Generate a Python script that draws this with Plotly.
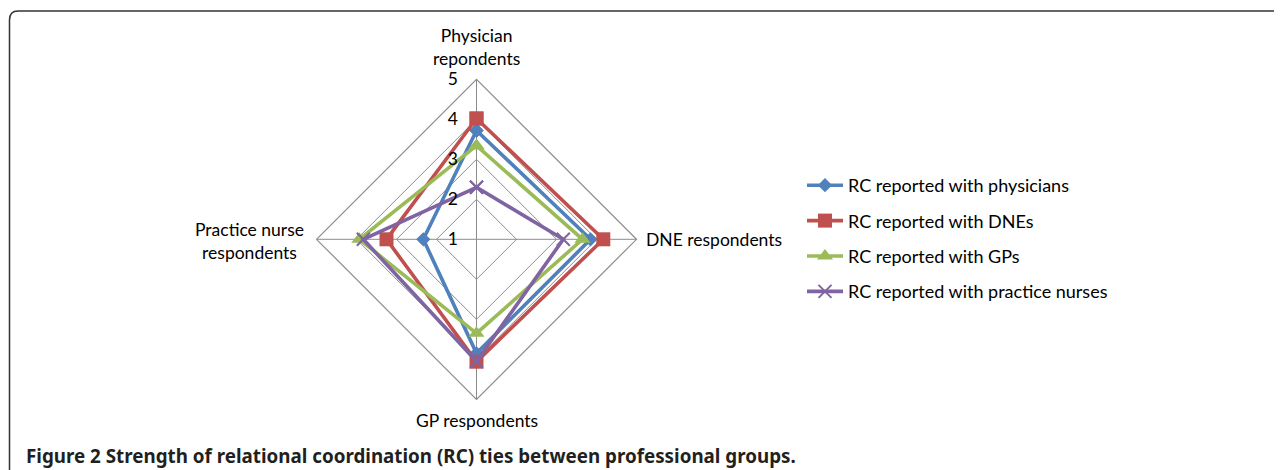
import plotly.graph_objects as go

categories = ["Physician<br>repondents", "DNE respondents", "GP respondents", "Practice nurse<br>respondents"]
series_names = ["RC reported with physicians", "RC reported with DNEs",
                "RC reported with GPs", "RC reported with practice nurses"]
rc_physicians = [3.72, 3.85, 3.85, 2.33]
rc_dnes = [4.02, 4.17, 4.06, 3.25]
rc_gps = [3.34, 3.65, 3.35, 3.93]
rc_practice_nurses = [2.30, 3.17, 4.05, 3.83]
radial_ticks = [1, 2, 3, 4, 5]
caption = "<b>Figure 2</b> <b>Strength of relational coordination (RC) ties between professional groups.</b>"

series_values = [rc_physicians, rc_dnes, rc_gps, rc_practice_nurses]
colors = ["#4F81BD", "#C0504D", "#9BBB59", "#8064A2"]
symbols = ["diamond", "square", "triangle-up", "x-thin"]
msizes = [11, 14, 14, 13]

# page has an 8px body margin; work in figure coordinates
OFF = 8
W, H = 1282 - OFF, 470 - OFF
cx, cy, R = 476.5 - OFF, 239.3 - OFF, 160

fig = go.Figure()
for i, (name, vals) in enumerate(zip(series_names, series_values)):
    marker = dict(symbol=symbols[i], size=msizes[i], color=colors[i])
    if symbols[i] == "x-thin":
        marker["line"] = dict(color=colors[i], width=2)
    fig.add_trace(go.Scatterpolar(
        r=vals + [vals[0]], theta=categories + [categories[0]],
        mode="lines+markers", name=name, legendgroup=name,
        line=dict(color=colors[i], width=3.6), marker=marker,
    ))

fig.update_layout(
    width=W, height=H,
    margin=dict(l=0, r=0, t=0, b=0),
    paper_bgcolor="white", plot_bgcolor="white",
    font=dict(family="Lato, Noto Sans, sans-serif", size=17.5, color="#000"),
    polar=dict(
        domain=dict(x=[(cx - R) / W, (cx + R) / W], y=[1 - (cy + R) / H, 1 - (cy - R) / H]),
        bgcolor="white",
        gridshape="linear",
        radialaxis=dict(range=[1, 5], tickvals=radial_ticks, ticktext=[str(t) for t in radial_ticks],
                        angle=90, tickangle=90, side="counterclockwise",
                        showline=False, gridcolor="#8c8c8c", gridwidth=1.2,
                        ticks="outside", ticklen=12, tickcolor="rgba(0,0,0,0)",
                        tickfont=dict(size=17.5, color="#000")),
        angularaxis=dict(rotation=90, direction="clockwise", showline=True, linecolor="#8c8c8c",
                         linewidth=1.2, gridcolor="#8c8c8c", gridwidth=1.2, ticks="",
                         showticklabels=False),
    ),
    legend=dict(x=(802 - OFF) / W, y=1 - (167 - OFF) / H, xanchor="left", yanchor="top",
                itemwidth=36, tracegroupgap=9, font=dict(size=18, color="#000"),
                bgcolor="rgba(0,0,0,0)"),
    showlegend=True,
)

# axis category labels placed around the chart
label_pos = [
    dict(x=cx, y=cy - R - 32, xanchor="center", yanchor="middle"),
    dict(x=cx + R + 7, y=cy, xanchor="left", yanchor="middle"),
    dict(x=cx, y=cy + R + 21, xanchor="center", yanchor="middle"),
    dict(x=cx - R - 11, y=cy + 2, xanchor="right", yanchor="middle"),
]
for cat, p in zip(categories, label_pos):
    fig.add_annotation(text=cat, xref="paper", yref="paper", x=p["x"] / W, y=1 - p["y"] / H,
                       xanchor=p["xanchor"], yanchor=p["yanchor"], showarrow=False, align="center",
                       font=dict(size=17.5, color="#000"))

# frame border (rounded top-left)
x0, y0 = 9 - OFF, 11 - OFF
fig.add_shape(type="path", xref="paper", yref="paper",
              path=f"M {(x0+0.5)/W} 0 L {(x0+0.5)/W} {1-(y0+9)/H} Q {(x0+0.5)/W} {1-y0/H} {(x0+9)/W} {1-y0/H} L 1 {1-y0/H}",
              line=dict(color="#333", width=1.5))

fig.add_annotation(text=caption, xref="paper", yref="paper", x=(24 - OFF) / W, y=1 - (456 - OFF) / H,
                   xanchor="left", yanchor="middle", showarrow=False,
                   font=dict(family="Noto Sans, sans-serif", size=18.8, color="#231f20"))

fig.write_html("out.html")
